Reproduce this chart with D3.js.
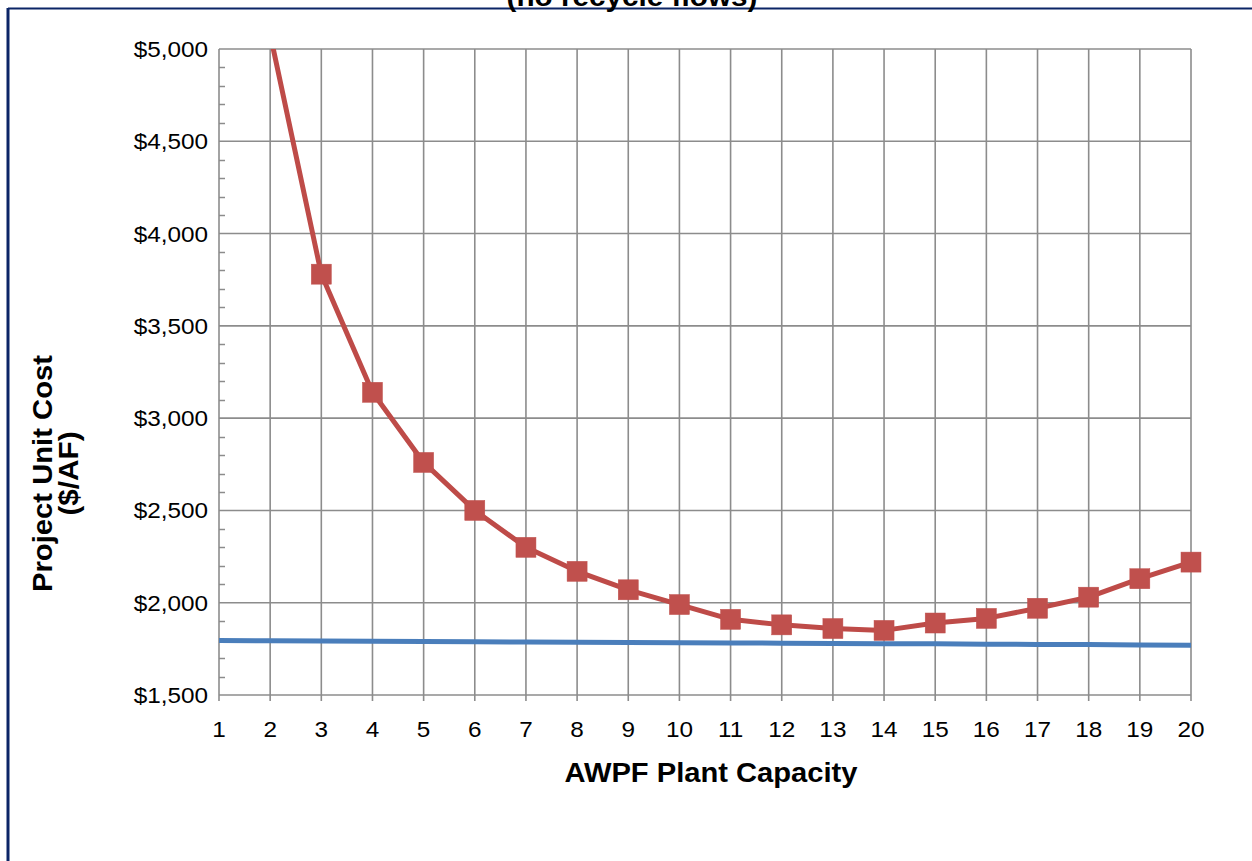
<!DOCTYPE html>
<html><head><meta charset="utf-8">
<script src="https://cdn.jsdelivr.net/npm/d3@7"></script>
<style>body{margin:0;background:#fff;}svg{display:block;font-family:Arial,"Liberation Sans",sans-serif;}</style>
</head><body>
<script>
const capacities = [1,2,3,4,5,6,7,8,9,10,11,12,13,14,15,16,17,18,19,20];
const projectCost = [null,5080,3780,3140,2760,2500,2300,2170,2070,1990,1910,1880,1860,1850,1890,1915,1970,2030,2130,2220];
const baselineCost = [1795,1794,1792,1791,1790,1788,1787,1786,1784,1783,1782,1781,1779,1778,1777,1775,1774,1773,1771,1770];
const yTicks = [1500,2000,2500,3000,3500,4000,4500,5000];
const xTicks = capacities;
const titleText = "(no recycle flows)";
const xLabel = "AWPF Plant Capacity";
const yLabelLines = ["Project Unit Cost","($/AF)"];

const W = 1252, H = 861;
const svg = d3.select("body").append("svg").attr("width", W).attr("height", H);
const L = 219, R = 1191, T = 49, B = 695;
const x = d3.scaleLinear().domain([1,20]).range([L,R]);
const y = d3.scaleLinear().domain([1500,5000]).range([B,T]);

function stretch(sel, f){
  sel.each(function(){
    const n = this.getComputedTextLength();
    d3.select(this).attr("textLength", n*f).attr("lengthAdjust","spacingAndGlyphs");
  });
}

// outer border
svg.append("line").attr("x1",8).attr("x2",W).attr("y1",8.5).attr("y2",8.5).attr("stroke","#0b2566").attr("stroke-width",2);
svg.append("line").attr("x1",8).attr("x2",8).attr("y1",8).attr("y2",H).attr("stroke","#0b2566").attr("stroke-width",3);

// title (cut off at top, as in the reference)
const title = svg.append("text").attr("x",632).attr("y",6).attr("text-anchor","middle").attr("font-weight","bold").attr("font-size",27).attr("fill","#000").text(titleText);
stretch(title, 1.1);

const grid = "#8c8c8c";
// minor y ticks
const minor = d3.range(1500,5001,100).filter(v => v % 500 !== 0);
svg.append("g").selectAll("line").data(minor).join("line")
  .attr("x1",L).attr("x2",L+6).attr("y1",d=>Math.round(y(d))+0.5).attr("y2",d=>Math.round(y(d))+0.5)
  .attr("stroke",grid).attr("stroke-width",1.5);
// horizontal grid
svg.append("g").selectAll("line").data(yTicks).join("line")
  .attr("x1",L).attr("x2",R).attr("y1",d=>y(d)).attr("y2",d=>y(d))
  .attr("stroke",grid).attr("stroke-width",1.6);
// vertical grid
svg.append("g").selectAll("line").data(xTicks).join("line")
  .attr("x1",d=>x(d)).attr("x2",d=>x(d)).attr("y1",T).attr("y2",B+6)
  .attr("stroke",grid).attr("stroke-width",1.6);

// y tick labels
const yt = svg.append("g").selectAll("text").data(yTicks).join("text")
  .attr("x",208).attr("y",d=>y(d)+8).attr("text-anchor","end").attr("font-size",22.5).attr("fill","#000")
  .text(d=>"$"+d3.format(",")(d));
stretch(yt, 1.08);
// x tick labels
const xt = svg.append("g").selectAll("text").data(xTicks).join("text")
  .attr("x",d=>x(d)).attr("y",736.5).attr("text-anchor","middle").attr("font-size",22.5).attr("fill","#000")
  .text(d=>d);
stretch(xt, 1.08);

// axis titles
const xl = svg.append("text").attr("x",711).attr("y",782).attr("text-anchor","middle").attr("font-weight","bold").attr("font-size",27).text(xLabel);
xl.attr("textLength",293).attr("lengthAdjust","spacingAndGlyphs");
const yl1 = svg.append("text").attr("transform","translate(52,473.5) rotate(-90)").attr("text-anchor","middle").attr("font-weight","bold").attr("font-size",27).text(yLabelLines[0]);
yl1.attr("textLength",237).attr("lengthAdjust","spacingAndGlyphs");
const yl2 = svg.append("text").attr("transform","translate(78,473.5) rotate(-90)").attr("text-anchor","middle").attr("font-weight","bold").attr("font-size",27).text(yLabelLines[1]);
stretch(yl2, 1.1);

// clip
svg.append("defs").append("clipPath").attr("id","plot").append("rect").attr("x",L-15).attr("y",T).attr("width",R-L+30).attr("height",B-T+20);

const g = svg.append("g").attr("clip-path","url(#plot)");
// blue line
g.append("path").datum(capacities.map((c,i)=>[c,baselineCost[i]]))
  .attr("d", d3.line().x(d=>x(d[0])).y(d=>y(d[1])))
  .attr("fill","none").attr("stroke","#4a7ebb").attr("stroke-width",5);
// red line
const redData = capacities.map((c,i)=>[c,projectCost[i]]).filter(d=>d[1]!==null);
g.append("path").datum(redData)
  .attr("d", d3.line().x(d=>x(d[0])).y(d=>y(d[1])))
  .attr("fill","none").attr("stroke","#be4b48").attr("stroke-width",5).attr("stroke-linejoin","round");
g.selectAll("rect.m").data(redData).join("rect").attr("class","m")
  .attr("x",d=>x(d[0])-10).attr("y",d=>y(d[1])-10).attr("width",20).attr("height",20)
  .attr("fill","#c0504d").attr("stroke","#c0504d").attr("stroke-width",0.5);
</script>
</body></html>
